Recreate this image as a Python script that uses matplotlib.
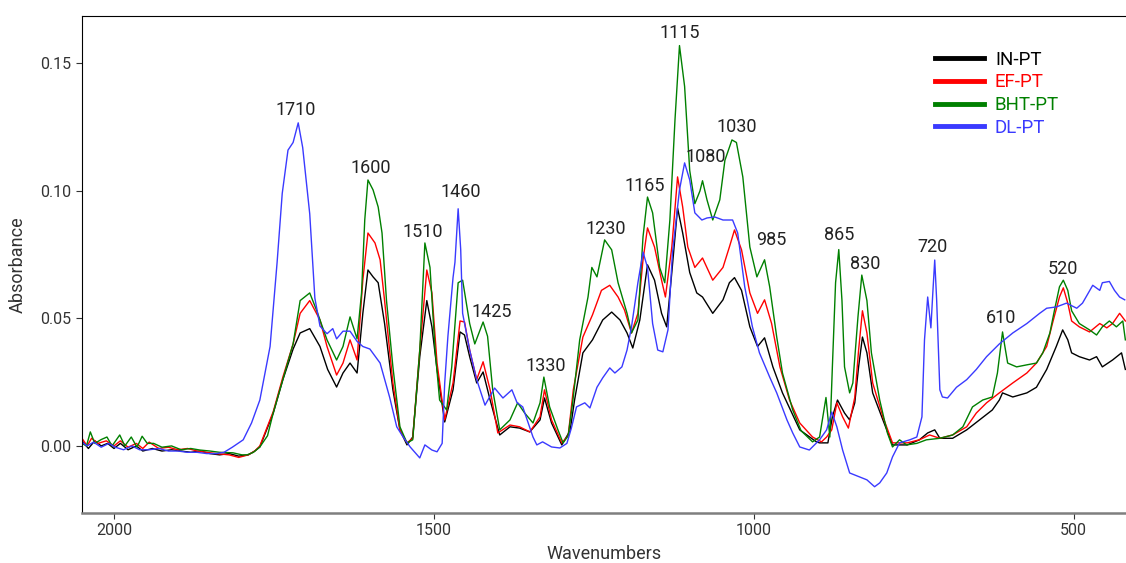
import numpy as np
import matplotlib.pyplot as plt

# IN-PT (black)
in_wn = [2050, 2040, 2030, 2020, 2010, 2000, 1990, 1978, 1965, 1955, 1940, 1925, 1910, 1895, 1880, 1865,
         1850, 1835, 1820, 1805, 1790, 1780, 1772, 1751, 1736, 1720, 1709, 1694, 1678, 1666, 1652, 1642,
         1631, 1620, 1611, 1603, 1595, 1587, 1577, 1564, 1553, 1542, 1533, 1522, 1511, 1503, 1495, 1483,
         1470, 1459, 1452, 1444, 1433, 1423, 1412, 1397, 1381, 1366, 1350, 1334, 1327, 1316, 1300, 1287,
         1280, 1267, 1252, 1236, 1222, 1209, 1198, 1189, 1178, 1166, 1155, 1144, 1136, 1128, 1119, 1111,
         1100, 1089, 1080, 1064, 1048, 1038, 1030, 1019, 1006, 994, 983, 970, 955, 939, 928, 902, 897, 884,
         877, 869, 858, 850, 842, 836, 830, 823, 814, 798, 783, 760, 741, 728, 717, 709, 689, 667, 647, 627,
         616, 611, 595, 573, 558, 542, 527, 517, 509, 503, 491, 475, 464, 455, 439, 425, 419]
in_abs = [0.002, -0.001, 0.002, 0.0, 0.001, -0.001, 0.001, -0.0015, 0.0, -0.002, -0.001, -0.002, -0.0015,
          -0.002, -0.0025, -0.002, -0.003, -0.0035, -0.003, -0.004, -0.0035, -0.002, -0.0004, 0.0129, 0.026,
          0.038, 0.0443, 0.046, 0.039, 0.030, 0.0231, 0.0286, 0.0325, 0.0286, 0.052, 0.069, 0.0663, 0.064,
          0.048, 0.022, 0.0063, 0.0004, 0.0035, 0.035, 0.057, 0.0467, 0.030, 0.0094, 0.022, 0.0447, 0.0435,
          0.035, 0.0247, 0.029, 0.018, 0.0043, 0.0075, 0.007, 0.0055, 0.0102, 0.0188, 0.009, 0.0004, 0.006,
          0.018, 0.0365, 0.0416, 0.0494, 0.0525, 0.0494, 0.0443, 0.0384, 0.0494, 0.071, 0.065, 0.052, 0.0467,
          0.068, 0.0933, 0.0835, 0.068, 0.060, 0.0584, 0.052, 0.0573, 0.064, 0.066, 0.061, 0.0467, 0.039,
          0.0424, 0.031, 0.0208, 0.0122, 0.0063, 0.0016, 0.0012, 0.0012, 0.0114, 0.018, 0.0129, 0.0102,
          0.0169, 0.031, 0.0427, 0.0365, 0.0208, 0.0102, 0.0004, 0.0004, 0.0024, 0.0051, 0.0063, 0.003,
          0.003, 0.0063, 0.0102, 0.0141, 0.018, 0.0208, 0.0192, 0.0208, 0.023, 0.030, 0.039, 0.0455, 0.0416,
          0.0365, 0.035, 0.0337, 0.035, 0.031, 0.0337, 0.0365, 0.030]

# EF-PT (red)
ef_wn = [2050, 2042, 2035, 2025, 2012, 2000, 1990, 1978, 1965, 1955, 1945, 1930, 1915, 1900, 1885, 1870,
         1855, 1840, 1820, 1805, 1790, 1780, 1772, 1751, 1736, 1720, 1709, 1694, 1678, 1667, 1652, 1642,
         1631, 1620, 1611, 1603, 1592, 1584, 1577, 1564, 1553, 1542, 1533, 1522, 1511, 1503, 1495, 1483,
         1470, 1459, 1452, 1444, 1433, 1423, 1412, 1400, 1381, 1366, 1350, 1334, 1327, 1316, 1300, 1290,
         1282, 1267, 1252, 1238, 1225, 1212, 1202, 1191, 1181, 1173, 1166, 1155, 1144, 1138, 1128, 1119,
         1111, 1103, 1092, 1080, 1064, 1048, 1038, 1030, 1019, 1006, 994, 983, 972, 959, 944, 928, 908, 894,
         886, 878, 870, 861, 852, 842, 836, 830, 823, 814, 798, 783, 760, 741, 725, 709, 689, 667, 652, 636,
         616, 595, 573, 558, 542, 533, 522, 516, 509, 503, 491, 475, 459, 448, 439, 428, 419]
ef_abs = [0.003, 0.0, 0.003, 0.001, 0.002, 0.0, 0.002, -0.0005, 0.001, -0.001, 0.0015, -0.001, -0.0005,
          -0.0015, -0.001, -0.002, -0.0025, -0.003, -0.0035, -0.0045, -0.0035, -0.002, 0.0, 0.0135, 0.027,
          0.040, 0.052, 0.057, 0.0494, 0.039, 0.0278, 0.0325, 0.0416, 0.0337, 0.065, 0.0835, 0.0796, 0.073,
          0.057, 0.0247, 0.0063, 0.0012, 0.003, 0.0376, 0.069, 0.060, 0.0325, 0.0102, 0.0247, 0.049, 0.0486,
          0.0376, 0.026, 0.033, 0.022, 0.0051, 0.0082, 0.0075, 0.0055, 0.0114, 0.022, 0.0102, 0.0012, 0.004,
          0.022, 0.0427, 0.0514, 0.061, 0.063, 0.0584, 0.0533, 0.0443, 0.052, 0.073, 0.0855, 0.078, 0.065,
          0.0584, 0.078, 0.1055, 0.0937, 0.078, 0.070, 0.0737, 0.065, 0.070, 0.078, 0.0847, 0.0769, 0.060,
          0.052, 0.0573, 0.048, 0.031, 0.018, 0.009, 0.0035, 0.0016, 0.0035, 0.0063, 0.0169, 0.0114, 0.007,
          0.019, 0.0376, 0.053, 0.0443, 0.0247, 0.0114, 0.0012, 0.0012, 0.0024, 0.0043, 0.003, 0.0043,
          0.0075, 0.0129, 0.0169, 0.0208, 0.0247, 0.0286, 0.0325, 0.039, 0.048, 0.0584, 0.062, 0.056, 0.049,
          0.0467, 0.0447, 0.048, 0.0463, 0.048, 0.052, 0.049]

# BHT-PT (green)
bht_wn = [2050, 2043, 2037, 2030, 2020, 2011, 2003, 1991, 1983, 1973, 1964, 1956, 1948, 1938, 1925, 1910,
          1895, 1880, 1866, 1850, 1835, 1814, 1800, 1792, 1782, 1772, 1760, 1751, 1736, 1720, 1709, 1694,
          1683, 1667, 1652, 1642, 1631, 1620, 1613, 1608, 1603, 1595, 1587, 1581, 1574, 1564, 1553, 1542,
          1533, 1522, 1514, 1506, 1498, 1491, 1480, 1472, 1462, 1455, 1444, 1436, 1423, 1416, 1408, 1397,
          1381, 1369, 1358, 1345, 1334, 1328, 1319, 1306, 1298, 1290, 1283, 1272, 1259, 1253, 1245, 1233,
          1222, 1212, 1198, 1191, 1181, 1173, 1166, 1158, 1147, 1139, 1131, 1123, 1116, 1108, 1100, 1092,
          1084, 1080, 1073, 1064, 1053, 1045, 1034, 1027, 1017, 1006, 995, 983, 975, 964, 955, 939, 926,
          908, 897, 887, 881, 877, 872, 867, 862, 858, 850, 845, 837, 831, 823, 816, 803, 791, 783, 772,
          761, 745, 730, 709, 689, 673, 658, 642, 627, 619, 611, 608, 603, 589, 573, 558, 548, 537, 530,
          522, 516, 509, 503, 491, 475, 464, 455, 444, 433, 423, 419]
bht_abs = [0.001, 0.0, 0.0055, 0.001, 0.0025, 0.0035, 0.0, 0.0043, 0.0, 0.0035, -0.0005, 0.0038, 0.001,
           0.001, -0.0005, 0.0, -0.0015, -0.001, -0.0016, -0.002, -0.0025, -0.0027, -0.0035, -0.0035,
           -0.0025, -0.0004, 0.004, 0.013, 0.026, 0.040, 0.057, 0.060, 0.053, 0.0416, 0.0337, 0.039, 0.0506,
           0.042, 0.060, 0.0886, 0.1043, 0.1004, 0.0937, 0.0835, 0.057, 0.031, 0.0075, 0.0012, 0.0024,
           0.0376, 0.0796, 0.070, 0.0376, 0.018, 0.0141, 0.031, 0.064, 0.065, 0.048, 0.040, 0.0486, 0.043,
           0.022, 0.0063, 0.0102, 0.0169, 0.0129, 0.009, 0.0169, 0.027, 0.0153, 0.0063, 0.0012, 0.004, 0.017,
           0.0416, 0.0584, 0.070, 0.0663, 0.0808, 0.0769, 0.064, 0.052, 0.0443, 0.0494, 0.082, 0.0976,
           0.0914, 0.070, 0.064, 0.0886, 0.128, 0.157, 0.141, 0.108, 0.095, 0.100, 0.104, 0.0965, 0.0886,
           0.0965, 0.112, 0.120, 0.119, 0.1055, 0.078, 0.0663, 0.073, 0.0624, 0.0427, 0.0286, 0.0141, 0.006,
           0.0016, 0.0035, 0.019, 0.0035, 0.031, 0.064, 0.077, 0.057, 0.031, 0.0208, 0.0247, 0.0506, 0.067,
           0.057, 0.0365, 0.018, 0.0051, -0.0004, 0.0024, 0.0004, 0.001, 0.0024, 0.003, 0.0043, 0.0075,
           0.0153, 0.018, 0.0192, 0.0286, 0.0447, 0.040, 0.0325, 0.031, 0.0318, 0.0325, 0.0365, 0.0443,
           0.053, 0.0624, 0.065, 0.061, 0.053, 0.048, 0.0455, 0.0435, 0.0467, 0.049, 0.0467, 0.049, 0.0416]

# DL-PT (blue)
dl_wn = [2050, 2042, 2032, 2020, 2008, 1998, 1985, 1972, 1960, 1945, 1930, 1915, 1900, 1885, 1870, 1855,
         1840, 1828, 1815, 1798, 1785, 1772, 1756, 1745, 1737, 1728, 1720, 1712, 1705, 1694, 1686, 1678,
         1667, 1658, 1652, 1642, 1631, 1620, 1611, 1600, 1584, 1569, 1558, 1548, 1537, 1522, 1514, 1503,
         1495, 1487, 1483, 1478, 1470, 1467, 1462, 1458, 1455, 1444, 1433, 1420, 1405, 1392, 1378, 1370,
         1361, 1345, 1339, 1330, 1316, 1303, 1292, 1285, 1277, 1264, 1256, 1245, 1236, 1225, 1217, 1206,
         1198, 1191, 1181, 1173, 1166, 1158, 1150, 1142, 1134, 1127, 1116, 1108, 1100, 1092, 1081, 1073,
         1061, 1048, 1033, 1025, 1014, 1002, 991, 975, 964, 948, 939, 928, 913, 897, 886, 878, 870, 861,
         850, 834, 823, 811, 803, 792, 783, 772, 756, 745, 737, 733, 728, 723, 720, 717, 714, 709, 705, 697,
         683, 667, 652, 636, 616, 595, 573, 553, 542, 527, 511, 495, 486, 470, 459, 455, 444, 436, 428, 420]
dl_abs = [0.0015, 0.0, 0.0015, -0.0005, 0.001, -0.0005, -0.0015, 0.0, -0.0015, -0.0015, -0.001, -0.002,
          -0.002, -0.0025, -0.0025, -0.003, -0.003, -0.0025, -0.0005, 0.0024, 0.009, 0.018, 0.039, 0.072,
          0.099, 0.116, 0.119, 0.1267, 0.117, 0.091, 0.058, 0.047, 0.044, 0.046, 0.042, 0.045, 0.045, 0.041,
          0.039, 0.038, 0.0325, 0.019, 0.0075, 0.0035, -0.0004, -0.0047, 0.0004, -0.0016, -0.0023, 0.001,
          0.0247, 0.043, 0.066, 0.072, 0.093, 0.077, 0.052, 0.0376, 0.026, 0.016, 0.0227, 0.0188, 0.022,
          0.017, 0.0153, 0.0035, 0.0004, 0.0016, -0.0004, -0.0008, 0.001, 0.007, 0.0153, 0.0169, 0.0149,
          0.023, 0.0267, 0.0306, 0.0286, 0.031, 0.0376, 0.0467, 0.064, 0.076, 0.070, 0.048, 0.0376, 0.0369,
          0.0455, 0.0757, 0.1004, 0.111, 0.1043, 0.0914, 0.0886, 0.0894, 0.0898, 0.0886, 0.0886, 0.0835,
          0.0624, 0.0467, 0.0365, 0.027, 0.0208, 0.0102, 0.0051, -0.0004, -0.0016, 0.0024, 0.0063, 0.0133,
          0.0075, -0.0016, -0.0106, -0.0122, -0.0133, -0.016, -0.0145, -0.0106, -0.0043, 0.0012, 0.0024,
          0.0035, 0.0114, 0.0416, 0.0584, 0.0463, 0.060, 0.0729, 0.0573, 0.022, 0.0192, 0.0188, 0.023, 0.026,
          0.030, 0.035, 0.040, 0.0443, 0.048, 0.052, 0.054, 0.0545, 0.056, 0.054, 0.056, 0.063, 0.061, 0.064,
          0.0645, 0.061, 0.0584, 0.0573]

peak_labels = ['1710', '1600', '1510', '1460', '1425', '1330', '1230', '1165', '1115', '1080', '1030',
               '985', '865', '830', '720', '610', '520']
label_x = [1716, 1598, 1517, 1458, 1409, 1325, 1231, 1170, 1116, 1075, 1027, 973, 866, 825, 720, 614, 517]
label_y = [0.1318, 0.109, 0.0839, 0.0996, 0.0525, 0.0314, 0.0851, 0.102, 0.162, 0.1133, 0.125, 0.0808,
           0.0827, 0.0714, 0.078, 0.050, 0.0694]

plt.rcParams['font.family'] = ['Roboto', 'DejaVu Sans']

fig = plt.figure(figsize=(11.26, 5.63), dpi=100)
ax = fig.add_axes([82 / 1126, 50 / 563, 1044 / 1126, 497 / 563])

ax.plot(in_wn, in_abs, color='black', lw=1, label='IN-PT')
ax.plot(ef_wn, ef_abs, color='#ff0000', lw=1, label='EF-PT')
ax.plot(bht_wn, bht_abs, color='#008000', lw=1, label='BHT-PT')
ax.plot(dl_wn, dl_abs, color='#3a3aff', lw=1, label='DL-PT')

for t, x, y in zip(peak_labels, label_x, label_y):
    ax.text(x, y, t, ha='center', va='center', fontsize=13, color='#222222')

ax.set_xlim(2050, 418)
ax.set_ylim(-0.0263, 0.1686)
ax.set_xticks([2000, 1500, 1000, 500])
ax.set_yticks([0.0, 0.05, 0.10, 0.15])
ax.set_yticklabels(['0.00', '0.05', '0.10', '0.15'])
ax.tick_params(labelsize=11.5, length=4, colors='#333333')
ax.tick_params(axis='x', pad=3)
ax.set_xlabel('Wavenumbers', fontsize=13, color='#333333', labelpad=5)
ax.set_ylabel('Absorbance', fontsize=13, color='#333333', labelpad=10)

ax.spines['right'].set_visible(False)
ax.spines['bottom'].set_color('#7f7f7f')
ax.spines['bottom'].set_linewidth(1.8)

leg = ax.legend(loc='upper left', bbox_to_anchor=(0.817, 0.93), frameon=False, fontsize=13.5,
                handlelength=2.6, handletextpad=0.6, labelspacing=0.25, labelcolor='linecolor',
                borderaxespad=0, borderpad=0)
for h in leg.get_lines():
    h.set_linewidth(3.5)

fig.savefig('out.png', dpi=100)
